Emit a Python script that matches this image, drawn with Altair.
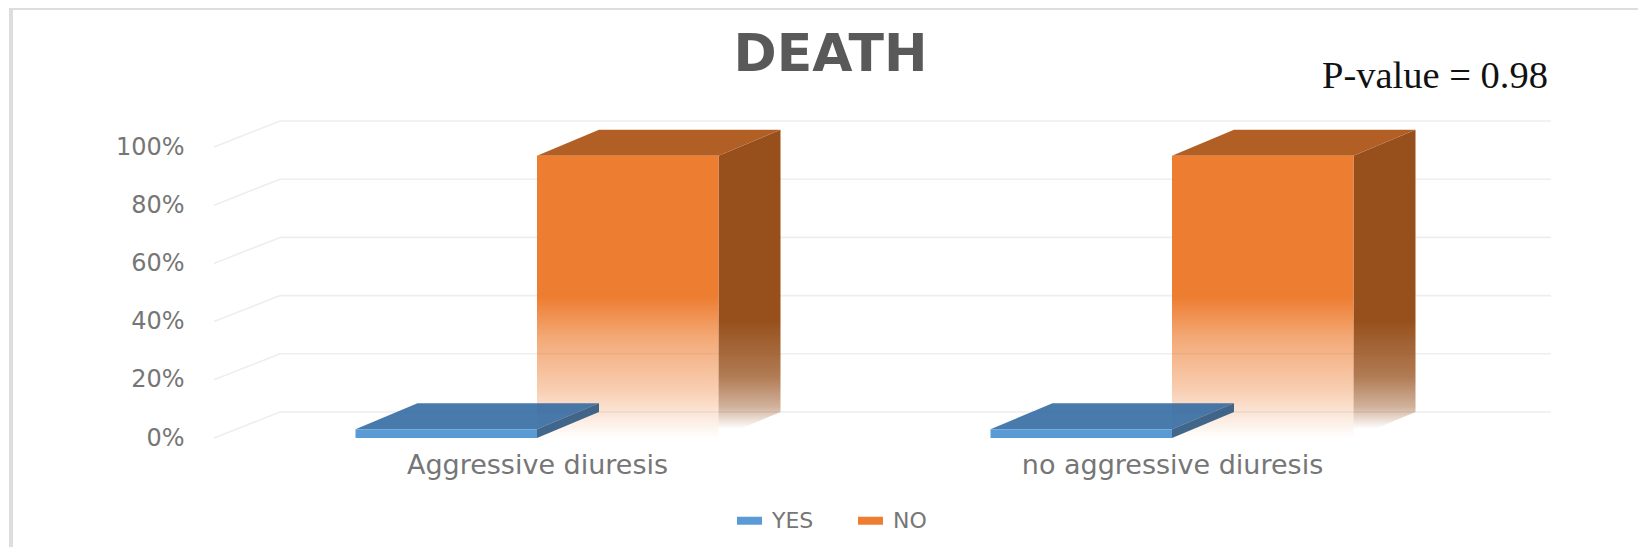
import altair as alt
import pandas as pd

# values
categories = ["Aggressive diuresis", "no aggressive diuresis"]
series = ["YES", "NO"]
yes_values = [3, 3]
no_values = [97, 97]
y_ticks = [0, 20, 40, 60, 80, 100]

# geometry of the pseudo-3D drawing, in data units
PX_X = 635.0            # pixels per category step
PX_Y = 2.91             # pixels per percent
BAR_W = 181.5 / PX_X
DEPTH_X = 62 / PX_X
DEPTH_Y = 26 / PX_Y
X_DOM = [(214 - 537) / PX_X, (1551 - 537) / PX_X]
Y_DOM = [0, 318 / PX_Y]
W, H = 1337, 318

x_scale = alt.Scale(domain=X_DOM, nice=False, zero=False)
y_scale = alt.Scale(domain=Y_DOM, nice=False)
label_expr = f"datum.value == 0 ? '{categories[0]}' : '{categories[1]}'"

# ---- tables derived from the value lists
front, side, top = [], [], []
for i, cat in enumerate(categories):
    for s, v, x0 in (("YES", yes_values[i], i - BAR_W), ("NO", no_values[i], i)):
        x1 = x0 + BAR_W
        front.append(dict(cat=cat, series=s, x0=x0, x1=x1, v=v))
        for x, lo, hi in ((x1, 0, v), (x1 + DEPTH_X, DEPTH_Y, v + DEPTH_Y)):
            side.append(dict(cat=cat, series=s, x=x, lo=lo, hi=hi))
        for x, lo, hi in ((x0, v, v), (x0 + DEPTH_X, v, v + DEPTH_Y),
                          (x1, v, v + DEPTH_Y), (x1 + DEPTH_X, v + DEPTH_Y, v + DEPTH_Y)):
            top.append(dict(cat=cat, series=s, x=x, lo=lo, hi=hi))
front, side, top = pd.DataFrame(front), pd.DataFrame(side), pd.DataFrame(top)

grid = pd.DataFrame([dict(t=t, x0=X_DOM[0] + DEPTH_X * 66 / 62, x1=X_DOM[1], y=t + DEPTH_Y) for t in y_ticks])
diag = pd.DataFrame(
    [dict(t=t, x=X_DOM[0], y=t) for t in y_ticks]
    + [dict(t=t, x=X_DOM[0] + DEPTH_X * 66 / 62, y=t + DEPTH_Y) for t in y_ticks]
)

X = lambda f: alt.X(f, type="quantitative", scale=x_scale, title=None)
Y = lambda f: alt.Y(f, type="quantitative", scale=y_scale, title=None)


def grad(color, stops):
    return alt.Gradient(
        gradient="linear", x1=0, x2=0, y1=0, y2=1,
        stops=[alt.GradientStop(color=color + a, offset=o) for o, a in stops],
    )


frame = alt.Chart(pd.DataFrame({"a": [0]})).mark_rect(
    fill="white", stroke="#dddddd", strokeWidth=4
).encode(x=alt.value(-203), x2=alt.value(1427), y=alt.value(-112), y2=alt.value(432))

axes = alt.Chart(front).mark_point(opacity=0).encode(
    x=alt.X("x0:Q", scale=x_scale, title=None,
            axis=alt.Axis(values=[0, 1], labelExpr=label_expr, domain=False, ticks=False, grid=False, zindex=1,
                          labelFont="DejaVu Sans", labelFontSize=27, labelColor="#767676", labelLimit=700,
                          labelPadding=14, labelBound=False, labelFlush=False, labelOverlap=False)),
    y=alt.Y("v:Q", scale=y_scale, title=None,
            axis=alt.Axis(values=y_ticks, labelExpr="datum.value + '%'", domain=False, ticks=False, grid=False, zindex=1,
                          labelFont="DejaVu Sans", labelFontSize=24, labelColor="#767676",
                          labelPadding=30, labelBound=False, labelOverlap=False)),
)

grid_back = alt.Chart(grid).mark_rule(color="#eeeeee", strokeWidth=1.6).encode(x=X("x0"), x2="x1:Q", y=Y("y"))
grid_diag = alt.Chart(diag).mark_line(color="#eeeeee", strokeWidth=1.6).encode(x=X("x"), y=Y("y"), detail="t:N")

is_no = "datum.series == 'NO'"
is_yes = "datum.series == 'YES'"

side_fade = [(0, "ff"), (0.62, "ff"), (0.8, "c0"), (0.9, "70"), (0.97, "00")]
front_fade = [(0, "ff"), (0.5, "ff"), (0.65, "a6"), (0.83, "60"), (1, "00")]

no_side = alt.Chart(side).transform_filter(is_no).mark_area(color=grad("#97501c", side_fade)).encode(
    x=X("x"), y=Y("hi"), y2="lo:Q", detail="cat:N")
no_top = alt.Chart(top).transform_filter(is_no).mark_area(color="#b25f25").encode(
    x=X("x"), y=Y("hi"), y2="lo:Q", detail="cat:N")
no_front = alt.Chart(front).transform_filter(is_no).mark_rect(color=grad("#ed7d31", front_fade)).encode(
    x=X("x0"), x2="x1:Q", y=Y("v"), y2=alt.datum(0))

yes_top = alt.Chart(top).transform_filter(is_yes).mark_area(color="#2f68a0", opacity=0.88).encode(
    x=X("x"), y=Y("hi"), y2="lo:Q", detail="cat:N")
yes_side = alt.Chart(side).transform_filter(is_yes).mark_area(color="#2c5680", opacity=0.9).encode(
    x=X("x"), y=Y("hi"), y2="lo:Q", detail="cat:N")
yes_front = alt.Chart(front).transform_filter(is_yes).mark_rect(color="#5b9bd5").encode(
    x=X("x0"), x2="x1:Q", y=Y("v"), y2=alt.datum(0))

legend_layer = alt.Chart(front).mark_rect(opacity=0).encode(
    x=X("x0"), x2="x1:Q", y=Y("v"),
    color=alt.Color("series:N", scale=alt.Scale(domain=series, range=["#5b9bd5", "#ed7d31"]),
                    legend=alt.Legend(
                        title=None, orient="none", legendX=523, legendY=388, direction="horizontal",
                        symbolType="M-1,-0.32H1V0.32H-1Z", symbolSize=625, symbolOpacity=1,
                        labelFont="DejaVu Sans", labelFontSize=22, labelColor="#767676",
                        labelOffset=10, symbolStrokeWidth=0, columnPadding=44)),
)

pvalue = alt.Chart(pd.DataFrame({"label": ["P-value = 0.98"]})).mark_text(
    font="Liberation Serif", fontSize=38.5, color="#111111", align="right", baseline="alphabetic"
).encode(x=alt.value(1548 - 214), y=alt.value(88 - 120), text="label:N")

chart = alt.layer(
    frame, grid_back, grid_diag, no_side, no_top, no_front, yes_top, yes_side, yes_front,
    legend_layer, axes, pvalue
).properties(
    width=W, height=H,
    title=alt.TitleParams("DEATH", font="DejaVu Sans", fontSize=52, fontWeight="bold", color="#595959",
                          anchor="middle", frame="group", baseline="alphabetic", dx=-52, dy=117, offset=0),
    padding={"left": 206, "top": 112, "right": 87, "bottom": 109},
    autosize=alt.AutoSizeParams(type="none"),
).configure_view(stroke=None)

chart.save("out.html", embed_options={"renderer": "svg", "actions": False})
